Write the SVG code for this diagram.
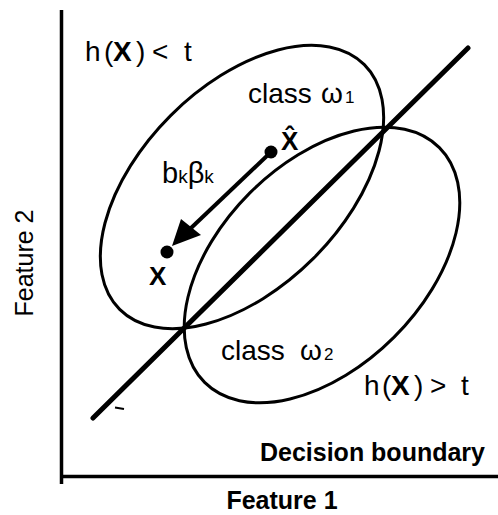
<svg xmlns="http://www.w3.org/2000/svg" width="498" height="515" viewBox="0 0 498 515">
<defs>
<style>
text{font-family:"Liberation Sans",Arial,sans-serif;fill:#000}
.lbl{font-size:28px}
.b{font-weight:bold}
.ax{stroke:#000;stroke-width:3.5;fill:none}
.ell{stroke:#000;stroke-width:3;fill:none}
</style>
</defs>
<rect width="498" height="515" fill="#fff"/>
<g id="axes">
<line class="ax" x1="61.5" y1="10" x2="61.5" y2="484"/>
<line class="ax" x1="60" y1="476.5" x2="498" y2="476.5"/>
<text x="33" y="263" font-size="25" text-anchor="middle" transform="rotate(-90 33 263)">Feature 2</text>
<text x="282" y="509" font-size="25" class="b" text-anchor="middle">Feature 1</text>
</g>
<g id="boundary">
<line x1="93" y1="418" x2="468" y2="48" stroke="#000" stroke-width="5" stroke-linecap="round"/>
<line x1="115" y1="407.5" x2="124" y2="409" stroke="#000" stroke-width="2"/>
<text x="485" y="461" font-size="25" class="b" text-anchor="end">Decision boundary</text>
</g>
<g id="class1">
<ellipse class="ell" cx="242" cy="187" rx="173" ry="101" transform="rotate(-45 242 187)"/>
<text class="lbl" x="248" y="103">class</text>
<text class="lbl" x="321" y="103">ω</text>
<text x="345" y="103" font-size="17">1</text>
<text class="lbl" x="85" y="61">h</text>
<text class="lbl" x="104" y="61">(</text>
<text class="lbl b" x="113" y="61">X</text>
<text class="lbl" x="136" y="61">)</text>
<text class="lbl" x="152" y="61">&lt;</text>
<text class="lbl" x="184" y="61">t</text>
</g>
<g id="class2">
<ellipse class="ell" cx="322" cy="265" rx="166" ry="102" transform="rotate(-45 322 265)"/>
<text class="lbl" x="221" y="360">class</text>
<text class="lbl" x="300" y="360">ω</text>
<text x="324" y="360" font-size="17">2</text>
<text class="lbl" x="364" y="395">h</text>
<text class="lbl" x="382" y="395">(</text>
<text class="lbl b" x="391" y="395">X</text>
<text class="lbl" x="414" y="395">)</text>
<text class="lbl" x="430" y="395">&gt;</text>
<text class="lbl" x="461" y="395">t</text>
</g>
<g id="points">
<circle cx="271" cy="152" r="6.5" fill="#000"/>
<circle cx="167" cy="252" r="6.5" fill="#000"/>
<text x="281" y="150" font-size="26" class="b">X̂</text>
<text x="149" y="285" font-size="26" class="b">X</text>
<text x="162" y="183" font-size="29">b<tspan font-size="19">k</tspan>β<tspan font-size="19">k</tspan></text>
</g>
<g id="connectors">
<line x1="271" y1="152" x2="190" y2="229" stroke="#000" stroke-width="4"/>
<polygon points="181,219 201,235 172,246" fill="#000"/>
</g>
</svg>
